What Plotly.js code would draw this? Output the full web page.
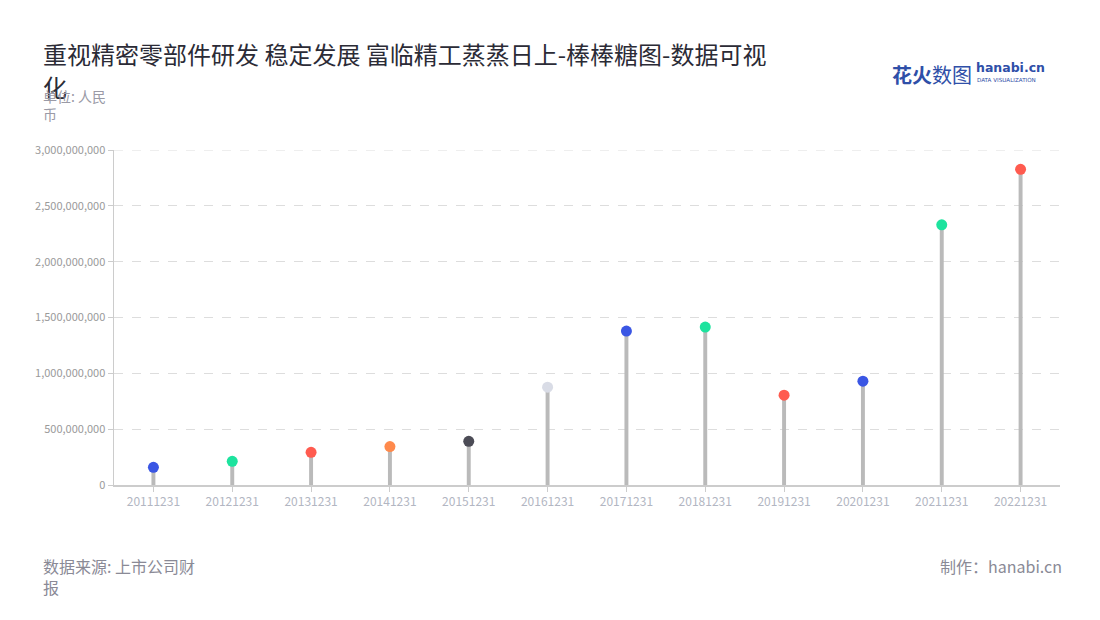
<!DOCTYPE html>
<html>
<head>
<meta charset="utf-8">
<script src="https://cdn.plot.ly/plotly-3.0.1.min.js"></script>
<style>
html,body{margin:0;padding:0;background:#fff;}
#chart{width:1100px;height:620px;}
</style>
</head>
<body>
<div id="chart"></div>
<script>
const categories = ["20111231","20121231","20131231","20141231","20151231","20161231","20171231","20181231","20191231","20201231","20211231","20221231"];
const values = [158000000,212000000,293000000,344000000,391000000,876000000,1378000000,1414000000,804000000,930000000,2330000000,2827000000];
const dotColors = ["#3a56e4","#1de39e","#ff5b4f","#ff8a4c","#4c4c56","#d9dce6","#3a56e4","#1de39e","#ff5b4f","#3a56e4","#1de39e","#ff5b4f"];
const yTicks = [0,500000000,1000000000,1500000000,2000000000,2500000000,3000000000];
const titleLine1 = "重视精密零部件研发 稳定发展 富临精工蒸蒸日上-棒棒糖图-数据可视";
const titleLine2 = "化";
const unitText = "单位: 人民<br>币";
const sourceText = "数据来源: 上市公司财<br>报";
const makerText = "制作：hanabi.cn";

const FONT = "'Noto Sans CJK SC','Noto Sans',sans-serif";
const PW = 946, PH = 335;
function px(x){ return (x - 114) / PW; }
function py(y){ return (485 - y) / PH; }

const stems = {
  type: "bar",
  x: categories,
  y: values,
  width: 0.05,
  marker: {color: "#bababa"},
  hoverinfo: "skip",
  showlegend: false
};
const dots = {
  type: "scatter",
  mode: "markers",
  x: categories,
  y: values,
  marker: {color: dotColors, size: 11},
  hoverinfo: "skip",
  showlegend: false
};

const layout = {
  width: 1100, height: 620,
  paper_bgcolor: "#fff", plot_bgcolor: "#fff",
  margin: {l: 114, r: 40, t: 150, b: 135},
  font: {family: FONT},
  showlegend: false,
  xaxis: {
    type: "category",
    range: [-0.5, 11.5],
    showgrid: false,
    showline: true, linecolor: "#cccccc", linewidth: 1.5,
    ticks: "outside", ticklen: 5, tickcolor: "#cccccc",
    tickfont: {size: 12, color: "#b2b6c2", family: FONT},
    zeroline: false,
    fixedrange: true
  },
  yaxis: {
    range: [0, yTicks[yTicks.length - 1]],
    tickvals: yTicks,
    tickformat: ",",
    showgrid: true, gridcolor: "#dddddd", griddash: "dash", gridwidth: 1,
    showline: true, linecolor: "#cccccc", linewidth: 1.5,
    ticks: "outside", ticklen: 5, tickcolor: "#cccccc",
    tickfont: {size: 11, color: "#9a9a9a", family: FONT},
    zeroline: false,
    fixedrange: true
  },
  shapes: [
    {type: "line", xref: "paper", yref: "y", x0: 0, x1: 1,
     y0: yTicks[yTicks.length - 1], y1: yTicks[yTicks.length - 1],
     line: {color: "#dddddd", width: 1, dash: "dash"}, layer: "below"}
  ],
  annotations: [
    {xref: "paper", yref: "paper", text: titleLine1, showarrow: false,
     x: px(41), y: py(34), xanchor: "left", yanchor: "top", align: "left",
     font: {size: 24, color: "#2b2b36", family: FONT}},
    {xref: "paper", yref: "paper", text: titleLine2, showarrow: false,
     x: px(41), y: py(67), xanchor: "left", yanchor: "top", align: "left",
     font: {size: 24, color: "#2b2b36", family: FONT}},
    {xref: "paper", yref: "paper", text: unitText, showarrow: false,
     x: px(41), y: py(84), xanchor: "left", yanchor: "top", align: "left",
     font: {size: 14, color: "#9a9aa6", family: FONT}},
    {xref: "paper", yref: "paper", text: sourceText, showarrow: false,
     x: px(41), y: py(552), xanchor: "left", yanchor: "top", align: "left",
     font: {size: 16, color: "#8a8a96", family: FONT}},
    {xref: "paper", yref: "paper", text: makerText, showarrow: false,
     x: px(1064), y: py(552), xanchor: "right", yanchor: "top", align: "right",
     font: {size: 16, color: "#8a8a96", family: FONT}},
    {xref: "paper", yref: "paper", text: "<b>花火</b>数图", showarrow: false,
     x: px(890), y: py(58), xanchor: "left", yanchor: "top",
     font: {size: 20, color: "#2f4fa8", family: FONT}},
    {xref: "paper", yref: "paper", text: "<b>hanabi.cn</b>", showarrow: false,
     x: px(974), y: py(58), xanchor: "left", yanchor: "top",
     font: {size: 12.5, color: "#2f4fa8", family: "'DejaVu Sans',sans-serif"}},
    {xref: "paper", yref: "paper", text: "DATA VISUALIZATION", showarrow: false,
     x: px(975), y: py(75), xanchor: "left", yanchor: "top",
     font: {size: 5.6, color: "#2f4fa8", family: "'DejaVu Sans',sans-serif"}}
  ]
};

Plotly.newPlot("chart", [stems, dots], layout, {displayModeBar: false, staticPlot: true});
</script>
</body>
</html>
